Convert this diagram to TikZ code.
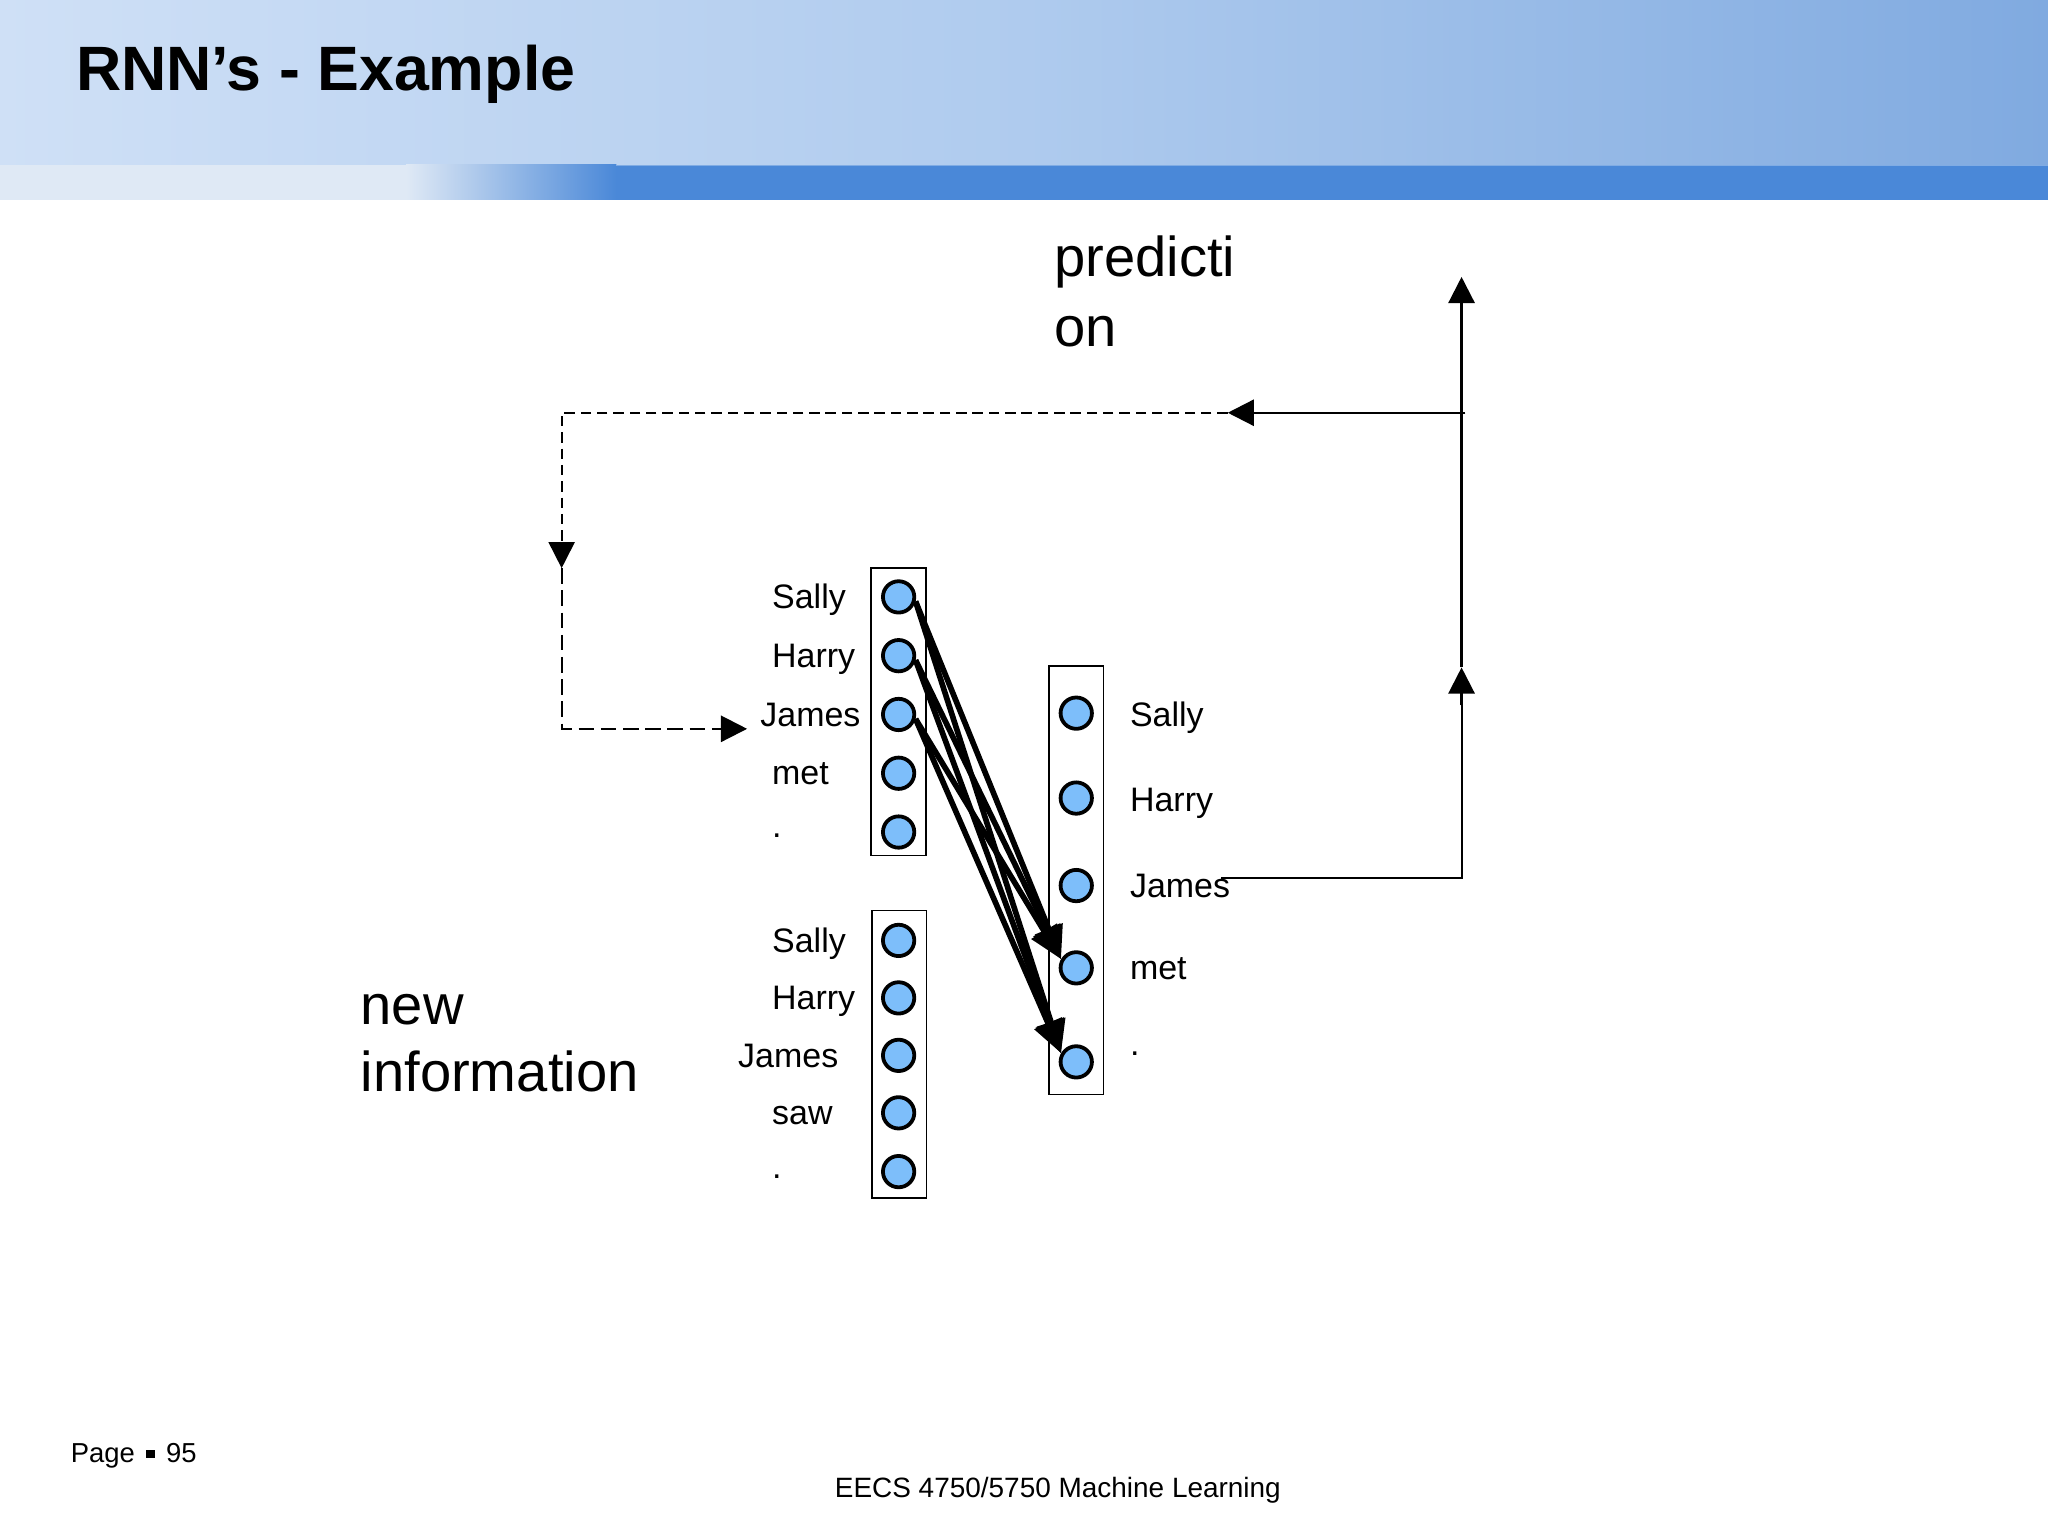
\documentclass[tikz,border=0pt]{standalone}
\usepackage{fontspec}
\setmainfont{Liberation Sans}
\usetikzlibrary{arrows.meta}
\definecolor{neuronblue}{HTML}{7DBEFA}
\definecolor{hdrL}{HTML}{CFE0F6}
\definecolor{hdrM}{HTML}{AFCBEE}
\definecolor{hdrR}{HTML}{80AAE0}
\definecolor{bandblue}{HTML}{4A88D8}
\definecolor{bandpale}{HTML}{DFE9F5}
\tikzset{
  neuron/.style={circle, draw=black, line width=2.9pt, fill=neuronblue, minimum size=24pt, inner sep=0pt},
  layerbox/.style={draw=black, line width=1.2pt, inner sep=0pt, minimum width=42pt},
  lbl/.style={anchor=base west, inner sep=0pt, font=\fontsize{26}{31}\selectfont},
  bigtxt/.style={anchor=base west, inner sep=0pt, font=\fontsize{43}{53}\selectfont},
  foot/.style={anchor=base west, inner sep=0pt, font=\fontsize{21}{25}\selectfont},
  thickarrow/.style={line width=4.3pt, -{Triangle[length=25pt,width=22pt]}},
  flowarrow/.style={line width=1.8pt, -{Triangle[length=20pt,width=20pt]}},
  dashA/.style={line width=1.4pt, dash pattern=on 8pt off 4.5pt, -{Triangle[length=20pt,width=20pt]}},
  dashB/.style={line width=1.7pt, dash pattern=on 12pt off 5pt},
}
\begin{document}
\begin{tikzpicture}[x=1pt, y=-1pt]
\useasboundingbox (0,0) rectangle (1568,1176);
% header
\shade[left color=hdrL, right color=hdrR, middle color=hdrM] (0,0) rectangle (1568,126);
\fill[bandblue] (0,126) rectangle (1568,153);
\fill[bandpale] (0,126) rectangle (312,153);
\shade[left color=bandpale, right color=bandblue] (311,126) rectangle (472,153);
\draw[line width=1pt, color=bandblue!70!white] (472,126.5) -- (1568,126.5);
\node[anchor=base west, inner sep=0pt, font=\fontsize{48}{57}\selectfont\bfseries] (title) at (58,69.5) {RNN’s - Example};

% layer boxes
\node[layerbox, minimum height=220pt] (boxA) at (688,545) {};
\node[layerbox, minimum height=220pt] (boxB) at (688.5,807) {};
\node[layerbox, minimum height=328pt] (boxC) at (824,674) {};

% top-left layer
\node[neuron] (a1) at (688,457) {};
\node[neuron] (a2) at (688,502) {};
\node[neuron] (a3) at (688,547) {};
\node[neuron] (a4) at (688,592) {};
\node[neuron] (a5) at (688,637) {};
\node[lbl] (ta1) at (591,466) {Sally};
\node[lbl] (ta2) at (591,511) {Harry};
\node[lbl] (ta3) at (582,556) {James};
\node[lbl] (ta4) at (591,601) {met};
\node[lbl] (ta5) at (591,641) {.};

% bottom-left layer
\node[neuron] (b1) at (688,720) {};
\node[neuron] (b2) at (688,764) {};
\node[neuron] (b3) at (688,808) {};
\node[neuron] (b4) at (688,852) {};
\node[neuron] (b5) at (688,897) {};
\node[lbl] (tb1) at (591,729) {Sally};
\node[lbl] (tb2) at (591,773) {Harry};
\node[lbl] (tb3) at (565,817) {James};
\node[lbl] (tb4) at (591,861) {saw};
\node[lbl] (tb5) at (591,902) {.};

% right layer
\node[neuron] (c1) at (824,546) {};
\node[neuron] (c2) at (824,611) {};
\node[neuron] (c3) at (824,678) {};
\node[neuron] (c4) at (824,741) {};
\node[neuron] (c5) at (824,813) {};
\node[lbl] (tc1) at (865,556) {Sally};
\node[lbl] (tc2) at (865,621) {Harry};
\node[lbl] (tc3) at (865,687) {James};
\node[lbl] (tc4) at (865,750) {met};
\node[lbl] (tc5) at (865,808) {.};

% weights
\foreach \s in {a1,a2,a3}{
  \draw[thickarrow] (\s.-15) -- (c4.150);
  \draw[thickarrow] (\s.-15) -- (c5.150);
}

% texts
\node[bigtxt] (pred1) at (807,212) {predicti};
\node[bigtxt] (pred2) at (807,265) {on};
\node[bigtxt] (new1) at (276,784) {new};
\node[bigtxt] (new2) at (276,836) {information};

% prediction path
\coordinate (jstart) at (935,672.5);
\coordinate (jcorner) at (1119,672.5);
\coordinate (upmid) at (1119,511);
\coordinate (uptop) at (1119,212);
\coordinate (junction) at (1122,316);
\coordinate (fbtip) at (940,316);
\coordinate (fbcorner) at (430,316);
\coordinate (fbdown) at (430,435);
\coordinate (fbcorner2) at (430,558);
\coordinate (fbend) at (572,558);

\draw[line width=1.5pt] (jstart) -- (jcorner) -- (1119,530);
\draw[flowarrow] (1119,540) -- (upmid);
\draw[flowarrow] (upmid) -- (uptop);
\draw[flowarrow] (junction) -- (fbtip);
\draw[dashA] (fbtip) -- (fbcorner) -- (fbdown);
\draw[dashB] (fbdown) -- (fbcorner2) -- (552,558);
\draw[line width=1.7pt, -{Triangle[length=20pt,width=20pt]}] (555,558) -- (fbend);

% footer
\node[foot, font=\fontsize{21}{25}\selectfont] (page) at (54,1120) {Page\hspace{0.42em}\rule[0.18em]{0.3em}{0.3em}\hspace{0.42em}95};
\node[foot, font=\fontsize{21.4}{25}\selectfont] (course) at (639,1146.5) {EECS 4750/5750 Machine Learning};
\end{tikzpicture}
\end{document}
